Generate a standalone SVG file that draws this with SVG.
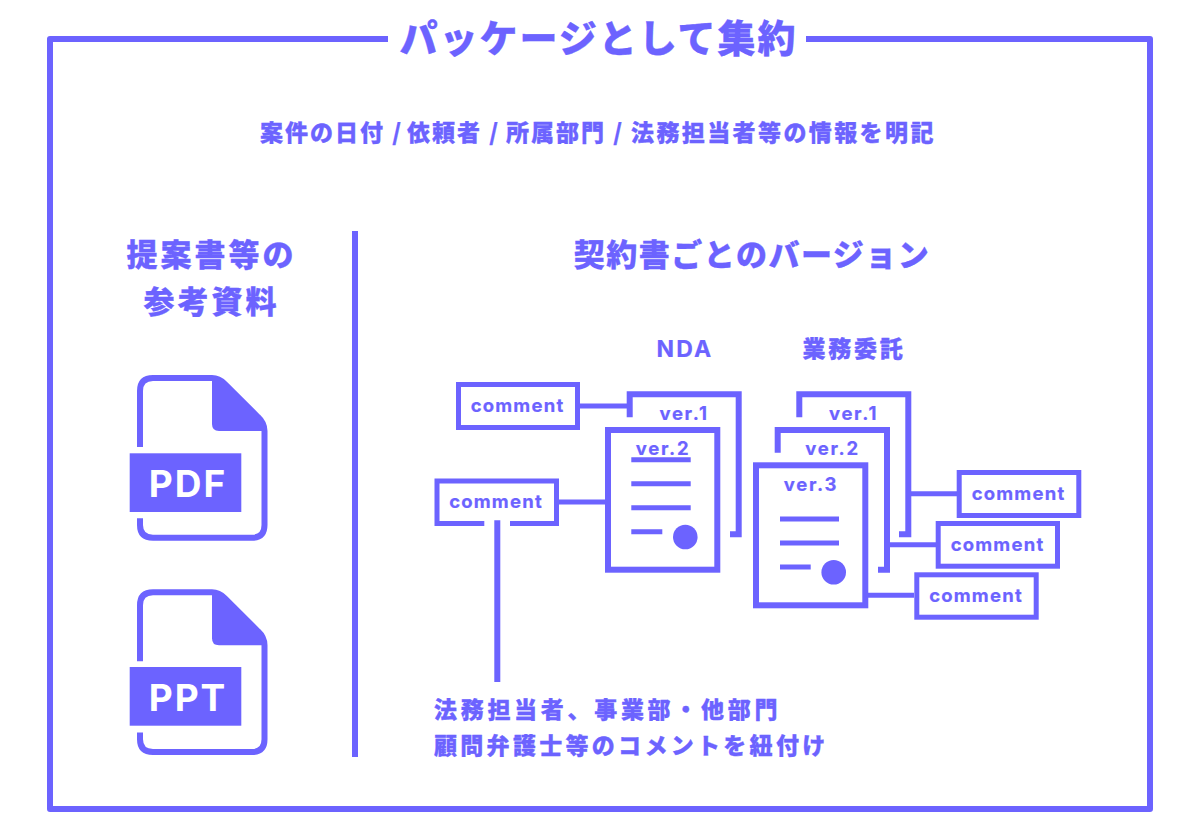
<svg xmlns="http://www.w3.org/2000/svg" width="1200" height="831" viewBox="0 0 1200 831">
<style>
.l{fill:none;stroke:#6c63ff;stroke-width:6}
.r{stroke-linejoin:round}
.c{fill:none;stroke:#6c63ff;stroke-width:5}
.f{fill:#6c63ff}
text{font-family:"Noto Sans CJK JP","Noto Sans",sans-serif;font-weight:900;fill:#6c63ff;stroke:#6c63ff;stroke-width:.3}
.e{font-family:Inter,"Liberation Sans",sans-serif;font-weight:700;font-size:18.500px;letter-spacing:1.200px;text-anchor:middle;stroke-width:.2}
.v{font-family:Inter,"Liberation Sans",sans-serif;font-weight:700;font-size:18.500px;letter-spacing:1.700px;text-anchor:middle;stroke-width:.2}
.j{font-size:23px}
.m{text-anchor:middle}
.w{font-family:Inter,"Liberation Sans",sans-serif;font-size:37px;font-weight:700;letter-spacing:2px;fill:#fff;stroke:none;text-anchor:middle}
</style>
<defs>
<g id="file">
<path class="l" d="M140 447V391Q140 378 153 378H212Q219 378 225 384L258 417Q264.500 423 264.500 431V525Q264.500 537.700 252 537.700H153Q140 537.700 140 525V518.300"/>
<path class="f" d="M212 378H218Q222 378 226 382L262 419Q267 425 267 431H219Q212 431 212 424Z"/>
</g>
</defs>
<g id="frame"><path class="l r" d="M388 39H50V809H1150V39H806"/></g>
<g id="title"><text class="m" x="598.500" y="52" font-size="38" letter-spacing="2">パッケージとして集約</text></g>
<text id="subtitle" y="141" font-size="23" letter-spacing="2"><tspan x="260">案件の日付 / </tspan><tspan x="407">依頼者 / </tspan><tspan x="506">所属部門 / </tspan><tspan x="631" letter-spacing="2.400">法務担当者等の情報を明記</tspan></text>
<g id="left-heading"><text class="m" x="211.500" y="266" font-size="31" letter-spacing="3">提案書等の</text><text class="m" x="211.500" y="313" font-size="31" letter-spacing="3">参考資料</text></g>
<g id="divider"><path class="l" d="M355 231V757"/></g>
<text id="right-heading" class="m" x="752" y="266" font-size="31" letter-spacing="1.500">契約書ごとのバージョン</text>
<text id="nda" class="e" x="685" y="357" style="font-size:23px;letter-spacing:2.200px">NDA</text>
<text id="gyomu" class="m" x="854" y="357" font-size="23" letter-spacing="2.700">業務委託</text>
<g id="pdf"><use href="#file"/><rect class="f" x="129.700" y="453.300" width="111.600" height="58.700"/><text class="w" x="188" y="497">PDF</text></g>
<g id="ppt"><use href="#file" y="214.300"/><rect class="f" x="129.700" y="667" width="111.600" height="58.700"/><text class="w" x="188" y="711">PPT</text></g>
<g id="connectors">
<path class="c" d="M580 406H629"/>
<path class="c" d="M559 502H606"/>
<path class="l" d="M497.300 520.300V682"/>
<path class="c" d="M908 493.700H957"/>
<path class="c" d="M887 544.700H936"/>
<path class="c" d="M865 595.300H914"/>
</g>
<g id="nda-v1"><path class="l" d="M629.700 417.300V394.300H738.700V534.300H730"/><text class="v" x="684" y="419.500">ver.1</text></g>
<g id="nda-v2"><rect class="l" x="608" y="430" width="109.300" height="139.700"/><text class="v" x="663" y="455">ver.2</text><path class="c" d="M631.300 459.700H690.700M631.300 483.700H690.700M631.300 507.700H690.700M631.300 531.700H662.300"/><circle class="f" cx="685.300" cy="537" r="12.300"/></g>
<g id="gyomu-v1"><path class="l" d="M799.300 417.300V394.300H908.300V534.300H899"/><text class="v" x="853.500" y="419.500">ver.1</text></g>
<g id="gyomu-v2"><path class="l" d="M777.700 452.700V430H887V569.700H878"/><text class="v" x="832.500" y="455">ver.2</text></g>
<g id="gyomu-v3"><rect class="l" x="756" y="465.300" width="109.300" height="140"/><text class="v" x="811" y="491">ver.3</text><path class="c" d="M780 519H839M780 543H839M780 567H810.700"/><circle class="f" cx="833.700" cy="572.300" r="12.300"/></g>
<g id="comment-1"><rect class="c" x="458.500" y="384.500" width="119" height="43"/><text class="e" x="517.500" y="412">comment</text></g>
<g id="comment-2"><path class="c" d="M484.300 523.500H437V481H556.500V523.500H510"/><text class="e" x="496" y="508">comment</text></g>
<g id="comment-3"><rect class="c" x="959.200" y="472.500" width="119.600" height="43"/><text class="e" x="1018.500" y="500">comment</text></g>
<g id="comment-4"><rect class="c" x="938.200" y="523.500" width="119.300" height="42.700"/><text class="e" x="997.500" y="551">comment</text></g>
<g id="comment-5"><rect class="c" x="916.800" y="574.800" width="119.400" height="42.400"/><text class="e" x="976" y="601.500">comment</text></g>
<g id="note"><text class="j" x="434" y="718" letter-spacing="3.700">法務担当者、事業部・他部門</text><text class="j" x="434" y="754" letter-spacing="3.300">顧問弁護士等のコメントを紐付け</text></g>
</svg>
